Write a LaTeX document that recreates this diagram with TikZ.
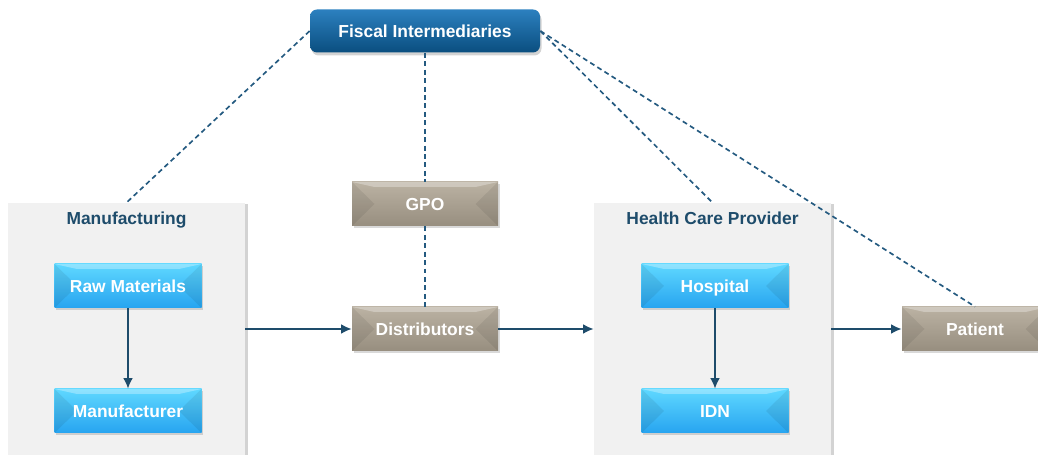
\documentclass[tikz,border=0pt]{standalone}
\usepackage{fontspec}
\setmainfont{Liberation Sans}
\usetikzlibrary{arrows.meta,shadows}
\definecolor{fiscTop}{HTML}{2C80BF}
\definecolor{fiscBot}{HTML}{0A4E7F}
\definecolor{blueTop}{HTML}{5FD8FF}
\definecolor{blueBot}{HTML}{27A4F0}
\definecolor{tanTop}{HTML}{BBB2A3}
\definecolor{tanBot}{HTML}{978E7F}
\definecolor{panelGray}{HTML}{F1F1F1}
\definecolor{lineBlue}{HTML}{245A80}
\definecolor{titleBlue}{HTML}{1E4C6B}
\def\boxfont{\fontsize{9.9}{12}\selectfont\bfseries}
\tikzset{
	bevel/.style={path picture={
		\fill[black,opacity=.07] (path picture bounding box.north west) -- ([xshift=.45cm]path picture bounding box.west) -- (path picture bounding box.south west) -- cycle;
		\fill[black,opacity=.07] (path picture bounding box.north east) -- ([xshift=-.45cm]path picture bounding box.east) -- (path picture bounding box.south east) -- cycle;
		\fill[white,opacity=.3] (path picture bounding box.north west) -- (path picture bounding box.north east) -- ([xshift=-.45cm,yshift=-.1cm]path picture bounding box.north east) -- ([xshift=.45cm,yshift=-.1cm]path picture bounding box.north west) -- cycle;
	}},
	bluebox/.style={bevel, minimum width=2.94cm, minimum height=0.88cm, text height=7.1pt, text depth=0pt, top color=blueTop, bottom color=blueBot, text=white, font=\boxfont, drop shadow={opacity=.3, shadow xshift=.03cm, shadow yshift=-.04cm}},
	tanbox/.style={bevel, minimum width=2.92cm, minimum height=0.88cm, text height=7.1pt, text depth=0pt, top color=tanTop, bottom color=tanBot, text=white, font=\boxfont, drop shadow={opacity=.3, shadow xshift=.03cm, shadow yshift=-.04cm}},
	fiscbox/.style={rounded corners=4pt, minimum width=4.6cm, minimum height=0.86cm, text height=7.1pt, text depth=0pt, top color=fiscTop, bottom color=fiscBot, text=white, font=\boxfont, drop shadow={opacity=.35, shadow xshift=.03cm, shadow yshift=-.06cm}},
	panel/.style={fill=panelGray, minimum width=4.74cm, minimum height=5.04cm, drop shadow={opacity=.35, shadow xshift=.05cm, shadow yshift=-.03cm}},
	paneltitle/.style={text=titleBlue, font=\boxfont, text height=7.1pt, text depth=0pt},
	link/.style={lineBlue, line width=0.95pt, dash pattern=on 2.8pt off 2pt},
	flow/.style={titleBlue, line width=0.85pt, -{Latex[length=6pt,width=5.5pt]}}
}

\begin{document}
\begin{tikzpicture}
		%%%%% START %%%%%
		\useasboundingbox (0, 0) rectangle (20.76, 9.1);
		\clip (0, 0) rectangle (20.76, 9.1);
		
		\node[panel] (mfg) at (2.53, 2.52) {};
		\node[paneltitle] (mfgtitle) at (2.53, 4.74) {Manufacturing};
		\node[panel] (hcp) at (14.25, 2.52) {};
		\node[paneltitle] (hcptitle) at (14.25, 4.74) {Health Care Provider};
		
		\node[fiscbox] (fisc) at (8.5, 8.48) {Fiscal Intermediaries};
		
		\node[bluebox] (raw) at (2.56, 3.38) {Raw Materials};
		\node[bluebox] (manu) at (2.56, 0.88) {Manufacturer};
		\node[bluebox] (hosp) at (14.3, 3.38) {Hospital};
		\node[bluebox] (idn) at (14.3, 0.88) {IDN};
		
		\node[tanbox] (gpo) at (8.5, 5.02) {GPO};
		\node[tanbox] (dist) at (8.5, 2.52) {Distributors};
		\node[tanbox] (pat) at (19.5, 2.52) {Patient};
		
		\draw[link] (fisc.west) -- (mfg.north);
		\draw[link] (fisc.south) -- (gpo.north);
		\draw[link] (gpo.south) -- (dist.north);
		\draw[link] (fisc.east) -- (hcp.north);
		\draw[link] (fisc.east) -- (pat.north);
		
		\draw[flow] (raw) -- (manu);
		\draw[flow] (hosp) -- (idn);
		\draw[flow] (mfg.east) -- (dist.west);
		\draw[flow] (dist.east) -- (hcp.west);
		\draw[flow] (hcp.east) -- (pat.west);
		%%%%% END %%%%%
	\end{tikzpicture}
\end{document}
